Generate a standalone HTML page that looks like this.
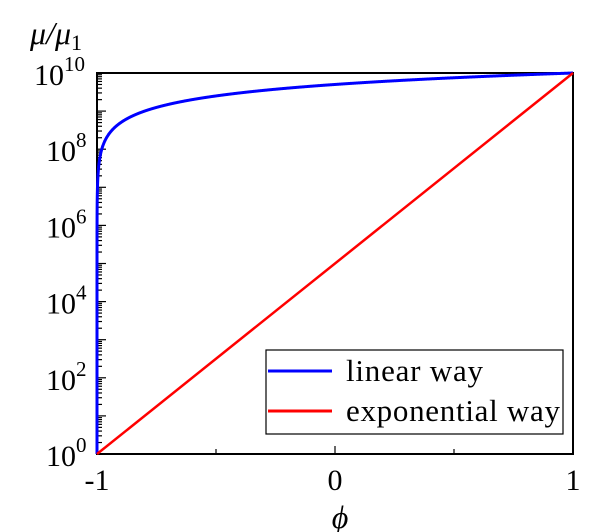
<!DOCTYPE html><html><head><style>body{margin:0;background:#fff}svg{display:block}text{font-family:"Liberation Serif",serif;fill:#000}</style></head><body>
<svg id="s" width="614" height="532" xmlns="http://www.w3.org/2000/svg">
<rect x="97" y="73" width="476" height="381" fill="none" stroke="#000" stroke-width="2"/>
<g id="t" stroke="#000" stroke-width="1.2"></g>
<path id="b" fill="none" stroke="#0000ff" stroke-width="3"/>
<line x1="97" y1="454" x2="573" y2="73" stroke="#ff0000" stroke-width="2.5"/>
<rect x="266" y="350" width="297" height="84" fill="#fff" stroke="#000" stroke-width="1.2"/>
<line x1="268" y1="371" x2="332" y2="371" stroke="#0000ff" stroke-width="3"/>
<line x1="268" y1="411" x2="332" y2="411" stroke="#ff0000" stroke-width="3"/>
<text x="346" y="381" font-size="31" textLength="137">linear way</text>
<text x="346" y="421" font-size="31" textLength="214">exponential way</text>
<text x="97" y="490" font-size="30" text-anchor="middle">-1</text>
<text x="335" y="490" font-size="30" text-anchor="middle">0</text>
<text x="573" y="490" font-size="30" text-anchor="middle">1</text>
<text x="340" y="528" font-size="32" font-style="italic" text-anchor="middle">ϕ</text>
<text x="30" y="44" font-size="32" font-style="italic">μ/μ<tspan font-style="normal" font-size="22" dy="6">1</tspan></text>
<g id="y" font-size="30"></g>
</svg>
<script>
var t=document.getElementById('t'),h='',B=454,L=97,D=(B-73)/10;
for(var d=0;d<10;d++)for(var k=1;k<10;k++){var y=B-D*(d+Math.log10(k));var len=k==1?8:4;h+='<line x1="98" x2="'+(98+len)+'" y1="'+y+'" y2="'+y+'"/>';}
[216,454].forEach(function(x){h+='<line x1="'+x+'" x2="'+x+'" y1="454" y2="449"/>'});
[335].forEach(function(x){h+='<line x1="'+x+'" x2="'+x+'" y1="454" y2="446"/>'});
t.innerHTML=h;
var g='';for(var e=0;e<=10;e+=2){var y=B-D*e;var x0=e==10?34:46;g+='<text x="'+x0+'" y="'+(y+12)+'">10</text><text x="'+(x0+30)+'" y="'+(y-2)+'" font-size="21">'+e+'</text>';}
document.getElementById('y').innerHTML=g;
var p='';for(var i=0;i<=2000;i++){var u=Math.pow(i/2000,3);var f=-1+2*u;var m=1+(1e10-1)*(f+1)/2;var x=L+(f+1)/2*476,y=B-D*Math.log10(m);p+=(i?'L':'M')+x.toFixed(2)+' '+y.toFixed(2);}
document.getElementById('b').setAttribute('d',p);
</script></body></html>
